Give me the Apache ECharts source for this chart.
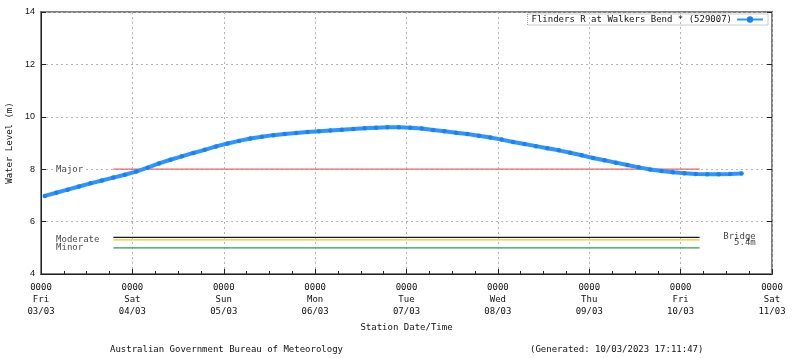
<!DOCTYPE html>
<html>
<head>
<meta charset="utf-8">
<script src="https://cdn.jsdelivr.net/npm/echarts@6/dist/echarts.min.js"></script>
<style>html,body{margin:0;padding:0;background:#fff;}#c{width:800px;height:358px;}</style>
</head>
<body>
<div id="c"></div>
<script>
// hours since Fri 03/03 00:00
var hours = [1,4,7,10,13,16,19,22,25,28,31,34,37,40,43,46,49,52,55,58,61,64,67,70,73,76,79,82,85,88,91,94,97,100,103,106,109,112,115,118,121,124,127,130,133,136,139,142,145,148,151,154,157,160,163,166,169,172,175,178,181,184];
var levels = [6.98,7.10,7.22,7.34,7.46,7.57,7.68,7.79,7.91,8.06,8.22,8.36,8.49,8.62,8.74,8.87,8.98,9.08,9.17,9.24,9.30,9.34,9.38,9.42,9.45,9.48,9.51,9.53,9.56,9.58,9.60,9.60,9.58,9.55,9.50,9.45,9.39,9.34,9.28,9.21,9.13,9.04,8.96,8.88,8.80,8.72,8.63,8.53,8.43,8.34,8.25,8.16,8.07,7.99,7.93,7.88,7.85,7.82,7.81,7.81,7.82,7.84];
var tickLabels = ["0000\nFri\n03/03","0000\nSat\n04/03","0000\nSun\n05/03","0000\nMon\n06/03","0000\nTue\n07/03","0000\nWed\n08/03","0000\nThu\n09/03","0000\nFri\n10/03","0000\nSat\n11/03"];
var thresholdNames = ["Major","Bridge","Moderate","Minor"];
var thresholdValues = [8.0, 5.4, 5.3, 5.0];
var thresholdColors = ["#ee6464","#1a1a1a","#f6c02c","#2f9a5c"];
var thresholdSpan = [19, 173];
var seriesName = "Flinders R at Walkers Bend * (529007)";

var mono = "DejaVu Sans Mono";
var chart = echarts.init(document.getElementById('c'));
var series = [{
  name: seriesName,
  type: 'line',
  data: hours.map(function(h,i){return [h, levels[i]];}),
  showSymbol: true,
  symbol: 'circle',
  symbolSize: 4.5,
  itemStyle: {color: '#1883f0'},
  lineStyle: {color: '#2f94ff', width: 4},
  z: 5
}];
thresholdNames.forEach(function(n,i){
  series.push({
    name: n, type: 'line', symbol: 'none', silent: true,
    data: [[thresholdSpan[0], thresholdValues[i]],[thresholdSpan[1], thresholdValues[i]]],
    lineStyle: {color: thresholdColors[i], width: 1.3}, z: 3
  });
});
var lblStyle = {show: true, fontFamily: mono, fontSize: 9, color: '#111', backgroundColor: '#fff', padding: [0, 1]};
series.push({
  name: 'labels', type: 'scatter', symbolSize: 0, silent: true,
  data: [
    {value: [3.7, 8.0], name: 'Major', label: Object.assign({}, lblStyle, {position: 'inside', align: 'left', verticalAlign: 'middle'})},
    {value: [3.7, 5.3], name: 'Moderate', label: Object.assign({}, lblStyle, {position: 'inside', align: 'left', verticalAlign: 'middle'})},
    {value: [3.7, 5.0], name: 'Minor', label: Object.assign({}, lblStyle, {position: 'inside', align: 'left', verticalAlign: 'middle'})},
    {value: [188, 5.42], name: 'Bridge', label: Object.assign({}, lblStyle, {position: 'inside', align: 'right', verticalAlign: 'middle'})},
    {value: [188, 5.18], name: '5.4m', label: Object.assign({}, lblStyle, {position: 'inside', align: 'right', verticalAlign: 'middle', backgroundColor: 'transparent'})}
  ],
  label: {show: true, formatter: function(p){return p.name;}},
  z: 6
});

chart.setOption({
  animation: false,
  grid: {left: 41, right: 28, top: 12, bottom: 84, show: true, borderColor: '#808080', borderWidth: 2, outerBoundsMode: 'none', containLabel: false},
  legend: {
    data: [seriesName], right: 32, top: 14, align: 'right', itemWidth: 26, itemHeight: 8, itemGap: 0,
    padding: [1, 4], borderColor: '#999', borderWidth: 1, borderType: 'dotted',
    textStyle: {fontFamily: mono, fontSize: 9, color: '#111'}
  },
  xAxis: {
    type: 'value', min: 0, max: 192, interval: 24,
    name: 'Station Date/Time', nameLocation: 'middle', nameGap: 49,
    nameTextStyle: {fontFamily: mono, fontSize: 9, color: '#111'},
    axisLine: {lineStyle: {color: '#222', width: 1}},
    axisTick: {inside: true, length: 5, lineStyle: {color: '#222'}},
    minorTick: {show: true, splitNumber: 4, length: 3, lineStyle: {color: '#222'}},
    axisLabel: {
      fontFamily: mono, fontSize: 9, color: '#111', lineHeight: 12, margin: 8,
      formatter: function(v){ return tickLabels[Math.round(v/24)] || ''; }
    },
    splitLine: {show: true, lineStyle: {color: '#b4b4b4', type: [2, 3], width: 1}}
  },
  yAxis: [{
    type: 'value', min: 4, max: 14, interval: 2,
    name: 'Water Level (m)', nameLocation: 'middle', nameGap: 27, nameRotate: 90,
    nameTextStyle: {fontFamily: mono, fontSize: 9, color: '#111'},
    axisLine: {show: true, lineStyle: {color: '#222', width: 1}},
    axisTick: {show: true, inside: true, length: 5, lineStyle: {color: '#222'}},
    axisLabel: {fontFamily: 'Liberation Sans', fontSize: 9, color: '#111', margin: 6},
    splitLine: {show: true, lineStyle: {color: '#b4b4b4', type: [2, 3], width: 1}}
  }, {
    type: 'value', min: 4, max: 14, interval: 2, position: 'right',
    axisLine: {show: false}, axisLabel: {show: false}, splitLine: {show: false},
    axisTick: {show: true, inside: true, length: 5, lineStyle: {color: '#222'}}
  }],
  graphic: [
    {type: 'text', left: 110, top: 345, style: {text: 'Australian Government Bureau of Meteorology', font: '9px "DejaVu Sans Mono"', fill: '#111'}},
    {type: 'text', left: 530, top: 345, style: {text: '(Generated: 10/03/2023 17:11:47)', font: '9px "DejaVu Sans Mono"', fill: '#111'}}
  ],
  series: series
});
</script>
</body>
</html>
